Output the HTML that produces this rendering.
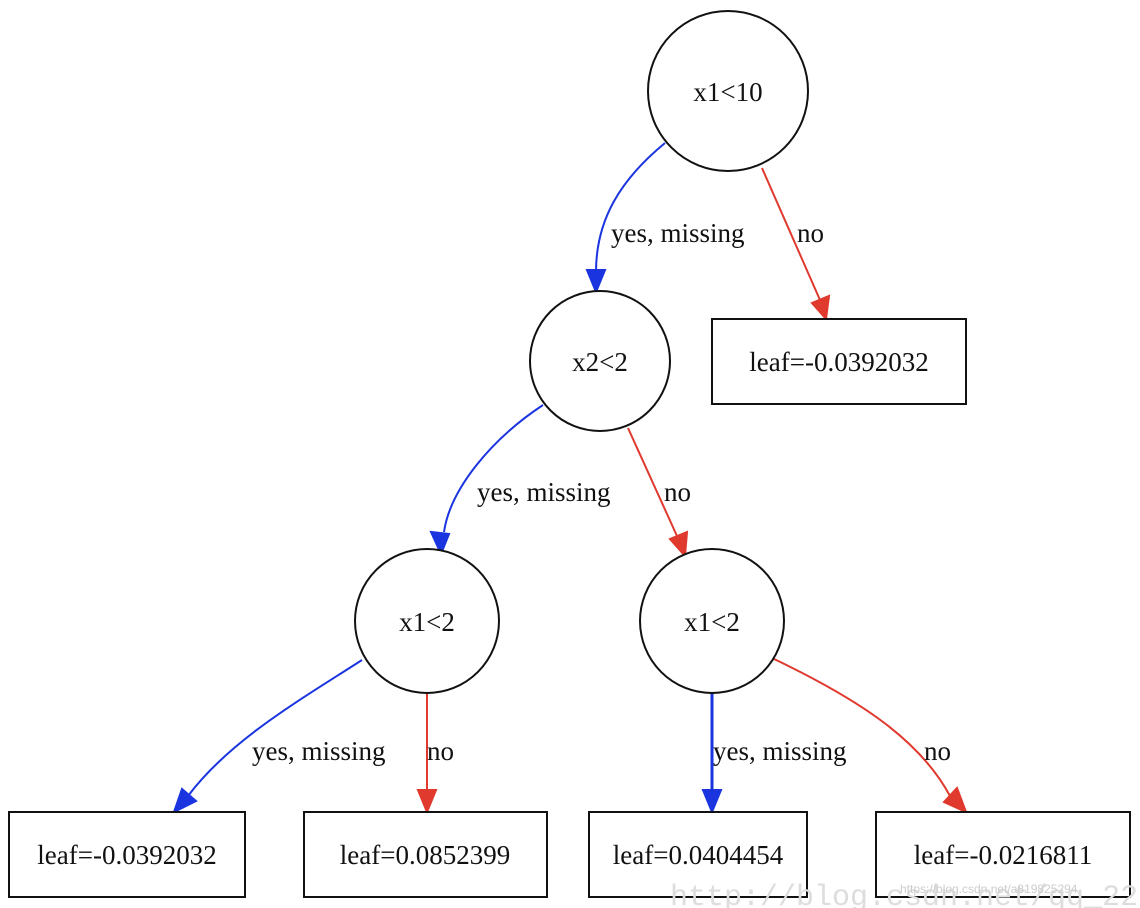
<!DOCTYPE html>
<html><head><meta charset="utf-8"><style>
html,body{margin:0;padding:0;background:#fff;}
svg{display:block;}
text{font-family:"Liberation Serif",serif;font-size:27px;fill:#111;}
</style></head><body>
<svg width="1140" height="908" viewBox="0 0 1140 908" xmlns="http://www.w3.org/2000/svg">
<defs>
<marker id="ab" markerWidth="10" markerHeight="10" refX="9" refY="5" orient="auto" markerUnits="userSpaceOnUse" viewBox="0 0 10 10"><path d="M0,0 L10,5 L0,10 z" fill="#1a35e0"/></marker>
<marker id="ar" markerWidth="10" markerHeight="10" refX="9" refY="5" orient="auto" markerUnits="userSpaceOnUse" viewBox="0 0 10 10"><path d="M0,0 L10,5 L0,10 z" fill="#e0392e"/></marker>
</defs>
<g fill="none" stroke-width="2">
<path d="M665,143 C620,180 596,220 596,272" stroke="#1a35e0"/>
<path d="M596,270 l-9,0 l9,22 l9,-22 z" fill="#1a35e0" stroke="#1a35e0"/>
<path d="M762,168 L820,300" stroke="#e0392e"/>
<path d="M826,319 l-14,-16 l17,-7 z" fill="#e0392e" stroke="#e0392e"/>
<path d="M543,405 C490,440 450,490 444,532" stroke="#1a35e0"/>
<path d="M441,554 l-10,-22 l18,2 z" fill="#1a35e0" stroke="#1a35e0"/>
<path d="M628,428 L677,536" stroke="#e0392e"/>
<path d="M685,556 l-15,-17 l17,-7 z" fill="#e0392e" stroke="#e0392e"/>
<path d="M362,660 C300,700 230,740 188,796" stroke="#1a35e0"/>
<path d="M174,812 l8,-23 l14,12 z" fill="#1a35e0" stroke="#1a35e0"/>
<path d="M427,692 L427,792" stroke="#e0392e"/>
<path d="M427,812 l-9,-22 l18,0 z" fill="#e0392e" stroke="#e0392e"/>
<path d="M712,692 L712,792" stroke="#1a35e0" stroke-width="3"/>
<path d="M712,812 l-9,-22 l18,0 z" fill="#1a35e0" stroke="#1a35e0"/>
<path d="M772,658 C860,700 920,740 950,796" stroke="#e0392e"/>
<path d="M966,812 l-22,-10 l13,-14 z" fill="#e0392e" stroke="#e0392e"/>
</g>
<g fill="#fff" stroke="#111" stroke-width="2">
<circle cx="728" cy="91" r="80"/>
<circle cx="600" cy="361" r="70"/>
<circle cx="427" cy="621" r="72"/>
<circle cx="712" cy="621" r="72"/>
<rect x="712" y="319" width="254" height="85"/>
<rect x="9" y="812" width="236" height="85"/>
<rect x="304" y="812" width="243" height="85"/>
<rect x="589" y="812" width="218" height="85"/>
<rect x="876" y="812" width="254" height="85"/>
</g>
<g text-anchor="middle">
<text x="728" y="101">x1&lt;10</text>
<text x="600" y="371">x2&lt;2</text>
<text x="427" y="631">x1&lt;2</text>
<text x="712" y="631">x1&lt;2</text>
<text x="839" y="371">leaf=-0.0392032</text>
<text x="127" y="864">leaf=-0.0392032</text>
<text x="425" y="864">leaf=0.0852399</text>
<text x="698" y="864">leaf=0.0404454</text>
<text x="1003" y="864">leaf=-0.0216811</text>
</g>
<text x="611" y="242">yes, missing</text>
<text x="797" y="242">no</text>
<text x="477" y="501">yes, missing</text>
<text x="664" y="501">no</text>
<text x="252" y="760">yes, missing</text>
<text x="427" y="760">no</text>
<text x="713" y="760">yes, missing</text>
<text x="924" y="760">no</text>
<text x="670" y="905" style="font-family:'Liberation Mono',monospace;font-size:30px;fill:#ddd">http://blog.csdn.net/qq_222</text>
<text x="900" y="893" style="font-family:'Liberation Sans',sans-serif;font-size:12px;fill:#ccc">https://blog.csdn.net/a819825294</text>
</svg>
</body></html>
